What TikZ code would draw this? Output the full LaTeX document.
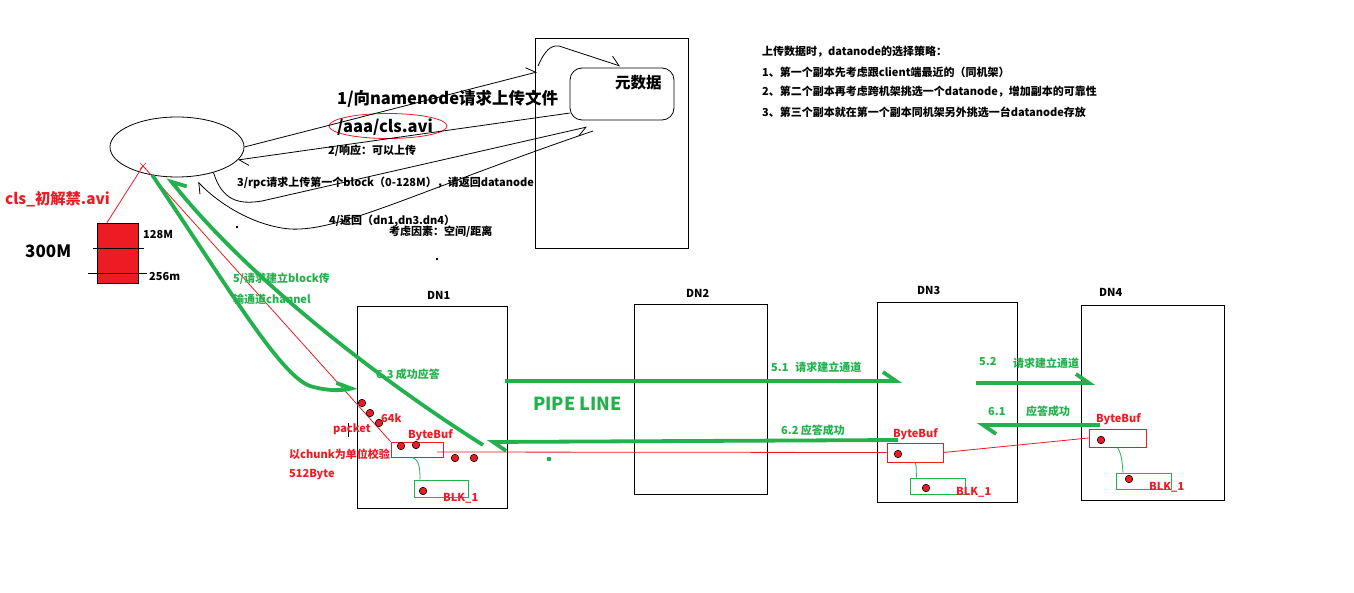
\documentclass[tikz,border=0pt]{standalone}
\usepackage{fontspec}
\setmainfont{Noto Sans CJK SC}
\usetikzlibrary{arrows.meta,shapes.geometric}
\definecolor{pgreen}{HTML}{22B14C}
\definecolor{pred}{HTML}{ED1C24}
\tikzset{
  lbl/.style={inner sep=0, anchor=west, font=\fontsize{11}{13}\selectfont\bfseries},
  rlbl/.style={lbl, text=pred},
  glbl/.style={lbl, text=pgreen},
  biglbl/.style={inner sep=0, anchor=west, font=\fontsize{16.5}{19}\selectfont\bfseries},
  bbox/.style={draw, line width=1pt, inner sep=0},
  rbox/.style={draw=pred, line width=0.9pt, inner sep=0},
  gbox/.style={draw=pgreen, line width=0.9pt, inner sep=0},
  barrow/.style={draw, line width=0.8pt, -{Straight Barb[harpoon, length=9pt, width=14pt]}},
  barrowswap/.style={draw, line width=0.8pt, -{Straight Barb[harpoon, swap, length=9pt, width=14pt]}},
  garrow/.style={draw=pgreen, line width=3.8pt, -{Straight Barb[harpoon, length=13pt, width=18pt]}},
  garrowswap/.style={draw=pgreen, line width=3.8pt, -{Straight Barb[harpoon, swap, length=13pt, width=18pt]}},
  rline/.style={draw=pred, line width=0.8pt},
  gthin/.style={draw=pgreen, line width=0.8pt},
  rdot/.style={circle, draw=black, fill=pred, line width=0.6pt, minimum size=7.5pt, inner sep=0},
}
\begin{document}
\begin{tikzpicture}[x=1pt, y=-1pt]
\useasboundingbox (0,0) rectangle (1354,593);
\fill[white] (0,0) rectangle (1354,593);

% ---------- client ----------
\node[draw, ellipse, line width=0.8pt, minimum width=134pt, minimum height=60pt, inner sep=0] (client) at (177,147) {};
\coordinate (cx) at (143,166);
\draw[pred, line width=0.7pt] (140,163) -- (146,169) (146,163) -- (140,169);

% ---------- file block ----------
\node[draw=black, fill=pred, line width=0.8pt, minimum width=41pt, minimum height=60pt, inner sep=0] (file) at (117.5,253) {};
\draw[line width=0.8pt] (93,248) -- (144,248);
\draw[line width=0.8pt] (88,273) -- (147,273);
\node[rlbl, font=\fontsize{15.3}{18}\selectfont\bfseries] (fname) at (5,199) {cls\_初解禁.avi};
\node[lbl, font=\fontsize{17}{19}\selectfont\bfseries] (size) at (25,251) {300M};
\node[lbl] (m128) at (143,234) {128M};
\node[lbl] (m256) at (149,277) {256m};

% ---------- namenode ----------
\node[bbox, minimum width=153pt, minimum height=210pt] (nn) at (611.5,144) {};
\node[draw, line width=0.8pt, rounded corners=12pt, minimum width=104pt, minimum height=52pt, inner sep=0] (meta) at (622,94) {};
\node[inner sep=0, anchor=west, font=\fontsize{15.5}{18}\selectfont\bfseries] (metalbl) at (615,83) {元数据};

\node[draw=pred, ellipse, line width=0.8pt, minimum width=118pt, minimum height=25pt, inner sep=0] (pathell) at (388,126) {};
\node[biglbl] (t1) at (337,99) {1/向namenode请求上传文件};
\node[biglbl] (t1b) at (337,127) {/aaa/cls.avi};
\node[lbl] (t2) at (328,151) {2/响应：可以上传};
\node[lbl] (t3) at (237,183) {3/rpc请求上传第一个block（0-128M），请返回datanode};
\node[lbl] (t4) at (329,221) {4/返回（dn1,dn3.dn4）};
\node[lbl] (t4b) at (389,232) {考虑因素：空间/距离};

\coordinate (nnin) at (537,72);
\coordinate (nnin2) at (538,66);
\coordinate (metain) at (620,66);
\coordinate (a3end) at (587,127);
\coordinate (a4start) at (593,131);
\coordinate (a4end) at (198,182);

\draw[barrow] (client.east) -- (nnin);
\draw[barrow] (nnin2) .. controls (545,50) and (551,45) .. (559,46) -- (metain);
\draw[barrow] (meta.200) -- (client.-12);
\draw[barrowswap] (client.-35) .. controls (222,200) and (238,205) .. (262,201) -- (a3end);
\draw[barrow] (a4start) .. controls (420,190) and (340,232) .. (290,229) .. controls (255,226) and (220,205) .. (a4end);

% stray dots
\fill (236,226) rectangle (238,228);
\fill (436,258) rectangle (438,260);

% ---------- policy text ----------
\node[lbl] (p0) at (762,52) {上传数据时，datanode的选择策略：};
\node[lbl] (p1) at (762,72) {1、第一个副本先考虑跟client端最近的（同机架）};
\node[lbl] (p2) at (762,92) {2、第二个副本再考虑跨机架挑选一个datanode，增加副本的可靠性};
\node[lbl] (p3) at (762,112) {3、第三个副本就在第一个副本同机架另外挑选一台datanode存放};

% ---------- datanodes ----------
\node[bbox, minimum width=150pt, minimum height=201pt] (dn1) at (432,407.5) {};
\node[bbox, minimum width=133pt, minimum height=189pt] (dn2) at (701,399.5) {};
\node[bbox, minimum width=140pt, minimum height=199pt] (dn3) at (947,402.5) {};
\node[bbox, minimum width=143pt, minimum height=194pt] (dn4) at (1152.5,403) {};
\node[lbl] (dn1l) at (427,295) {DN1};
\node[lbl] (dn2l) at (686,293) {DN2};
\node[lbl] (dn3l) at (917,290) {DN3};
\node[lbl] (dn4l) at (1099,292) {DN4};

% buffers and blocks
\node[rbox, minimum width=52pt, minimum height=15pt] (bb1) at (417,449.5) {};
\node[gbox, minimum width=54pt, minimum height=17pt] (blk1) at (441,488.5) {};
\node[rbox, minimum width=56pt, minimum height=19pt] (bb3) at (915,452.5) {};
\node[gbox, minimum width=55pt, minimum height=16pt] (blk3) at (937.5,486) {};
\node[rbox, minimum width=57pt, minimum height=18pt] (bb4) at (1117.5,438) {};
\node[gbox, minimum width=55pt, minimum height=16pt] (blk4) at (1143.5,481) {};

\draw[gthin] ([xshift=-5pt]bb1.south) .. controls (419,460) and (420,466) .. ([xshift=-21pt]blk1.north);
\draw[gthin] (bb3.south) .. controls (917,466) and (916,472) .. ([xshift=-21pt]blk3.north);
\draw[gthin] (bb4.south) .. controls (1122,455) and (1122,462) .. ([xshift=-20.5pt]blk4.north);

% red data lines
\coordinate (r3s) at (437,452);
\draw[rline] (cx) -- ([xshift=-10.5pt]file.north);
\draw[rline] (cx) -- (bb1.north west);
\draw[rline] (r3s) -- (bb3.west);
\draw[rline] (bb3.east) -- (bb4.west);

% red dots
\node[rdot] (d1) at (362,403) {};
\node[rdot] (d2) at (370,413) {};
\node[rdot] (d3) at (379,423) {};
\node[rdot] (d4) at (401,446) {};
\node[rdot] (d5) at (416,445) {};
\node[rdot] (d6) at (455,458) {};
\node[rdot] (d7) at (474,458) {};
\node[rdot] (d8) at (423,491) {};
\node[rdot] (d9) at (898,454) {};
\node[rdot] (d10) at (926,488) {};
\node[rdot] (d11) at (1101,440) {};
\node[rdot] (d12) at (1129,479) {};
\draw[line width=0.7pt] (348,423) -- (348,437);

\node[rlbl] (k64) at (381,418) {64k};
\node[rlbl] (pkt) at (333,429) {packet};
\node[rlbl] (bbl1) at (408,435) {ByteBuf};
\node[rlbl] (chunk) at (289,454) {以chunk为单位校验};
\node[rlbl] (b512) at (289,475) {512Byte};
\node[rlbl] (blkl1) at (443,498) {BLK\_1};
\node[rlbl] (bbl3) at (893,434) {ByteBuf};
\node[rlbl] (blkl3) at (956,492) {BLK\_1};
\node[rlbl] (bbl4) at (1096,419) {ByteBuf};
\node[rlbl] (blkl4) at (1149,487) {BLK\_1};

% ---------- green pipeline ----------
\coordinate (g5e) at (357,387);
\coordinate (g63s) at (483,445);
\coordinate (g51s) at (505,381);
\coordinate (g51e) at (902,381);
\coordinate (g52s) at (976,383);
\coordinate (g52e) at (1095,383);
\coordinate (g61s) at (1100,425);
\coordinate (g61e) at (977,425);
\coordinate (g62s) at (898,440);
\coordinate (g62e) at (487,442);

\draw[garrow] (client.-131) .. controls (230,290) and (280,375) .. (310,386) .. controls (330,392) and (345,390) .. (g5e);
\draw[garrowswap] (g63s) .. controls (380,380) and (250,280) .. (client.-107);
\draw[garrow] (g51s) -- (g51e);
\draw[garrow] (g52s) -- (g52e);
\draw[garrow] (g61s) -- (g61e);
\draw[garrow] (g62s) -- (g62e);
\fill[pgreen] (547,457) rectangle (551,461);

\node[glbl] (t5) at (233,279) {5/请求建立block传};
\node[glbl] (t5b) at (233,299) {输通道channel};
\node[glbl] (t63) at (376,374) {6.3 成功应答};
\node[glbl, font=\fontsize{18}{20}\selectfont\bfseries] (pipe) at (533,404) {PIPE LINE};
\node[glbl] (t51) at (771,367) {5.1\hspace{7pt}请求建立通道};
\node[glbl] (t62) at (781,430) {6.2 应答成功};
\node[glbl] (t52) at (979,362) {5.2};
\node[glbl] (t52b) at (1013,363) {请求建立通道};
\node[glbl] (t61) at (988,412) {6.1};
\node[glbl] (t61b) at (1026,411) {应答成功};
\end{tikzpicture}
\end{document}
